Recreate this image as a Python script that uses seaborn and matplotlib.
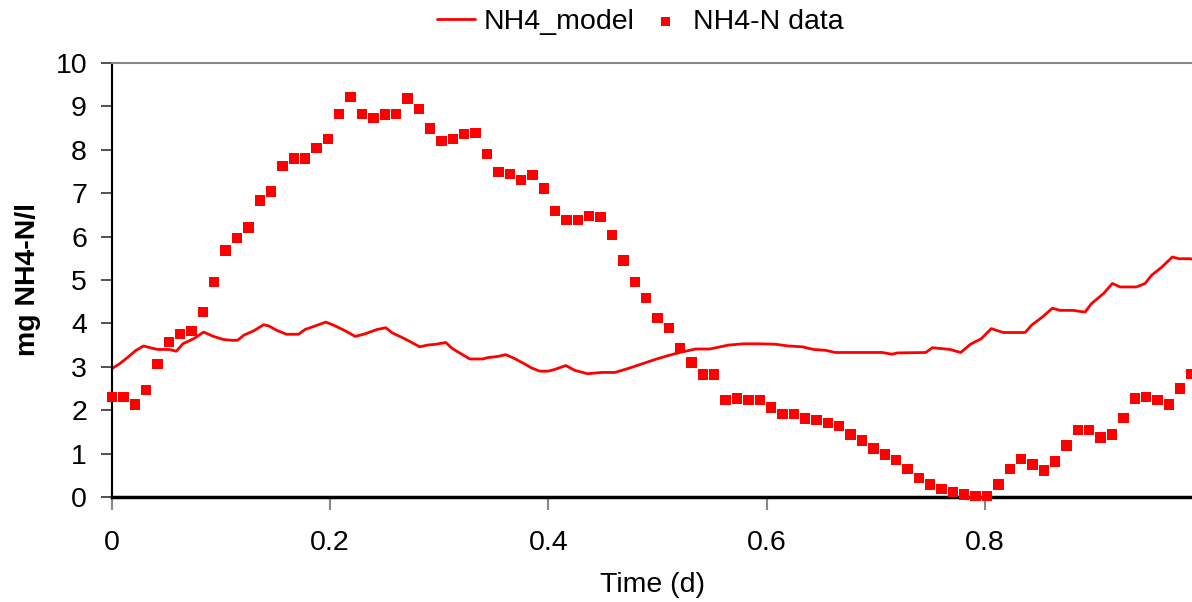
import numpy as np
import pandas as pd
import matplotlib
matplotlib.use("Agg")
import matplotlib.pyplot as plt
import seaborn as sns

# ---- data -------------------------------------------------------------
data_t = np.arange(96) / 96.0  # 15-minute sampling grid (days)
data_v = [2.30, 2.30, 2.13, 2.47, 3.06, 3.57, 3.75, 3.83, 4.27, 4.96,
          5.68, 5.96, 6.21, 6.83, 7.04, 7.62, 7.80, 7.80, 8.04, 8.25,
          8.83, 9.22, 8.83, 8.73, 8.81, 8.83, 9.18, 8.94, 8.49, 8.21,
          8.25, 8.36, 8.39, 7.90, 7.49, 7.45, 7.31, 7.42, 7.11, 6.59,
          6.38, 6.38, 6.48, 6.45, 6.04, 5.45, 4.96, 4.59, 4.13, 3.89,
          3.44, 3.10, 2.82, 2.82, 2.23, 2.27, 2.23, 2.23, 2.06, 1.92,
          1.92, 1.81, 1.78, 1.71, 1.64, 1.44, 1.30, 1.12, 0.98, 0.85,
          0.64, 0.43, 0.29, 0.19, 0.12, 0.06, 0.02, 0.02, 0.29, 0.64,
          0.88, 0.75, 0.61, 0.82, 1.19, 1.54, 1.54, 1.37, 1.44, 1.82,
          2.27, 2.30, 2.23, 2.13, 2.50, 2.84]

model_t = [0.000, 0.007, 0.015, 0.022, 0.029, 0.035, 0.042, 0.052, 0.059, 0.065,
           0.075, 0.084, 0.093, 0.102, 0.110, 0.115, 0.121, 0.130, 0.139, 0.144,
           0.151, 0.160, 0.171, 0.177, 0.186, 0.196, 0.203, 0.213, 0.223, 0.232,
           0.243, 0.251, 0.257, 0.268, 0.277, 0.282, 0.289, 0.297, 0.306, 0.312,
           0.320, 0.328, 0.340, 0.344, 0.354, 0.361, 0.369, 0.378, 0.384, 0.392,
           0.400, 0.406, 0.416, 0.424, 0.436, 0.449, 0.461, 0.473, 0.485, 0.498,
           0.510, 0.522, 0.535, 0.548, 0.565, 0.579, 0.593, 0.608, 0.620, 0.633,
           0.643, 0.654, 0.663, 0.706, 0.715, 0.720, 0.746, 0.752, 0.768, 0.778,
           0.787, 0.797, 0.806, 0.817, 0.837, 0.843, 0.853, 0.862, 0.869, 0.881,
           0.892, 0.898, 0.909, 0.917, 0.924, 0.939, 0.947, 0.953, 0.962, 0.972,
           0.978, 0.988, 0.993]
model_v = [2.96, 3.07, 3.23, 3.38, 3.48, 3.44, 3.40, 3.40, 3.36, 3.53,
           3.65, 3.80, 3.70, 3.63, 3.61, 3.61, 3.73, 3.83, 3.97, 3.94,
           3.84, 3.75, 3.75, 3.86, 3.94, 4.03, 3.96, 3.84, 3.70, 3.76,
           3.86, 3.90, 3.78, 3.65, 3.53, 3.46, 3.50, 3.52, 3.56, 3.42,
           3.30, 3.18, 3.18, 3.21, 3.24, 3.28, 3.19, 3.07, 2.98, 2.90,
           2.90, 2.94, 3.03, 2.92, 2.84, 2.87, 2.87, 2.96, 3.06, 3.17,
           3.26, 3.34, 3.41, 3.41, 3.50, 3.53, 3.53, 3.52, 3.48, 3.46,
           3.40, 3.38, 3.33, 3.33, 3.29, 3.32, 3.33, 3.44, 3.40, 3.33,
           3.52, 3.65, 3.88, 3.79, 3.79, 3.96, 4.15, 4.35, 4.30, 4.30,
           4.26, 4.46, 4.69, 4.92, 4.84, 4.84, 4.92, 5.11, 5.29, 5.53,
           5.49, 5.49, 5.47]

y_ticks = [0, 1, 2, 3, 4, 5, 6, 7, 8, 9, 10]
x_ticks = [0, 0.2, 0.4, 0.6, 0.8]
x_tick_labels = ["0", "0.2", "0.4", "0.6", "0.8"]

model_df = pd.DataFrame({"t": model_t, "v": model_v})
data_df = pd.DataFrame({"t": data_t, "v": data_v})

# ---- style ------------------------------------------------------------
sns.set_theme(style="white")
plt.rcParams["font.family"] = ["Liberation Sans", "DejaVu Sans"]
plt.rcParams["text.color"] = "black"
plt.rcParams["axes.labelcolor"] = "black"
plt.rcParams["xtick.color"] = "black"
plt.rcParams["ytick.color"] = "black"

FS = 20.5

fig = plt.figure(figsize=(11.92, 6.02), dpi=100)
ax = fig.add_axes([112 / 1192, 1 - 497 / 602, 1 - 112 / 1192, (497 - 63) / 602])

sns.lineplot(data=model_df, x="t", y="v", ax=ax, color="#ff0000", linewidth=2.0,
             label="NH4_model", legend=False)
sns.scatterplot(data=data_df, x="t", y="v", ax=ax, color="#ff0000", marker="s",
                s=55, edgecolor="none", label="NH4-N data", legend=False,
                clip_on=False, zorder=3)

ax.set_xlim(0, 0.99)
ax.set_ylim(0, 10)
ax.set_yticks(y_ticks)
ax.set_yticklabels([str(v) for v in y_ticks])
ax.set_xticks(x_ticks)
ax.set_xticklabels(x_tick_labels)

ax.tick_params(axis="y", which="major", direction="out", length=8, width=1.2,
               color="#333333", labelcolor="black", labelsize=FS, pad=10, left=True)
ax.tick_params(axis="x", which="major", direction="out", length=9, width=1.5,
               color="#888888", labelcolor="black", labelsize=FS, pad=15, bottom=True)

ax.spines["top"].set_color("#888888")
ax.spines["top"].set_linewidth(1.5)
ax.spines["right"].set_visible(False)
ax.spines["left"].set_color("black")
ax.spines["left"].set_linewidth(1.5)
ax.spines["bottom"].set_color("black")
ax.spines["bottom"].set_linewidth(2.5)
ax.grid(False)

ax.set_xlabel("Time (d)", fontsize=FS, color="black")
ax.set_ylabel("mg NH4-N/l", fontsize=FS, fontweight="bold", color="black")
ax.xaxis.set_label_coords(0.5, -0.172)
ax.yaxis.set_label_coords(-0.066, 0.5)

handles, labels = ax.get_legend_handles_labels()
fig.legend(handles, labels, loc="center", bbox_to_anchor=(0.537, 0.963), ncol=2,
           frameon=False, fontsize=FS, handlelength=1.35, handletextpad=0.3,
           columnspacing=0.4, markerscale=0.9)

fig.savefig("out.png", dpi=100)
